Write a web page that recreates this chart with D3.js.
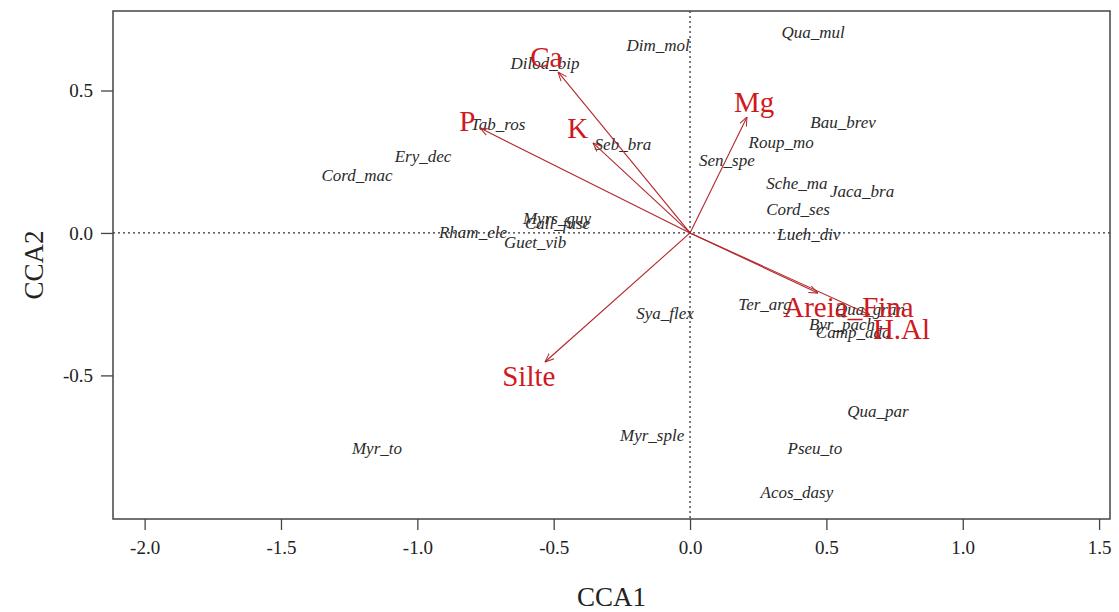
<!DOCTYPE html>
<html>
<head>
<meta charset="utf-8">
<script src="https://cdn.jsdelivr.net/npm/d3@7"></script>
<style>
    html, body { margin: 0; padding: 0; background: #fff; }
    #chart { width: 1119px; height: 612px; }
    text { font-family: "Liberation Serif", "Times New Roman", serif; }
</style>
</head>
<body>
<div id="chart"></div>
<script>
// species scores (CCA1, CCA2)
var speciesNames = ['Dim_mol', 'Dilod_bip', 'Tab_ros', 'Seb_bra', 'Ery_dec', 'Cord_mac',
    'Qua_mul', 'Bau_brev', 'Roup_mo', 'Sen_spe', 'Sche_ma', 'Jaca_bra', 'Cord_ses',
    'Lueh_div', 'Ter_arg', 'Qua_gran', 'Byr_pach', 'Camp_ada', 'Rham_ele', 'Guet_vib',
    'Myrs_guy', 'Call_fuse', 'Myr_to', 'Myr_sple', 'Qua_par', 'Pseu_to', 'Acos_dasy', 'Sya_flex'];
var speciesCCA1 = [-0.117, -0.532, -0.704, -0.246, -0.979, -1.221,
    0.451, 0.561, 0.334, 0.135, 0.392, 0.631, 0.396,
    0.436, 0.275, 0.660, 0.557, 0.598, -0.796, -0.568,
    -0.488, -0.486, -1.148, -0.139, 0.689, 0.458, 0.392, -0.092];
var speciesCCA2 = [0.656, 0.593, 0.379, 0.309, 0.267, 0.200,
    0.702, 0.386, 0.316, 0.253, 0.172, 0.147, 0.081,
    -0.004, -0.253, -0.270, -0.323, -0.351, 0.000, -0.035,
    0.049, 0.032, -0.758, -0.712, -0.628, -0.758, -0.912, -0.284];

// environmental vectors (arrow tips)
var envNames = ['Ca', 'P', 'K', 'Mg', 'Silte', 'Areia_Fina', 'H.Al'];
var envCCA1 = [-0.484, -0.770, -0.356, 0.209, -0.532, 0.469, 0.660];
var envCCA2 = [0.565, 0.368, 0.316, 0.407, -0.453, -0.211, -0.288];

var xTicks = [-2.0, -1.5, -1.0, -0.5, 0.0, 0.5, 1.0, 1.5];
var yTicks = [-0.5, 0.0, 0.5];
var xLimits = [-2.116, 1.54];
var yLimits = [-1.004, 0.779];

var Chart = function () {

    var _Chart = function (opts) {
        this.element = opts.element;
        this.__init();
    }

    _Chart.prototype = {
        __init: function () {
            this.__draw();
        },
        __draw: function () {
            this.width = 1119;
            this.height = 612;
            this.margin = { top: 11, right: 9, bottom: 93, left: 113 };

            this.element.innerHTML = '';
            var svg = d3.select(this.element)
                .append('svg')
                .attr('width', this.width)
                .attr('height', this.height);

            // arrow head marker, open "V" like R arrows()
            svg.append('defs').append('marker')
                .attr('id', 'head')
                .attr('viewBox', '0 0 10 10')
                .attr('refX', 10).attr('refY', 5)
                .attr('markerWidth', 9).attr('markerHeight', 9)
                .attr('markerUnits', 'userSpaceOnUse')
                .attr('orient', 'auto')
                .append('path')
                .attr('d', 'M0,1 L10,5 L0,9')
                .style('fill', 'none')
                .style('stroke', '#b3262b')
                .style('stroke-width', 1.1);

            this.plat = svg.append('g')
                .attr('transform', 'translate(' + this.margin.left + ',' + this.margin.top + ')');
            this.svg = svg;

            this.__createScales();
            this.__addAxes();
            this.__addZeroLines();
            this.__addSpecies();
            this.__addArrows();
            this.__addBox();
        },
        __createScales: function () {
            var m = this.margin;
            this.w = this.width - m.left - m.right;
            this.h = this.height - m.top - m.bottom;

            this.xScale = d3.scaleLinear().domain(xLimits).range([0, this.w]);
            this.yScale = d3.scaleLinear().domain(yLimits).range([this.h, 0]);
        },
        __addAxes: function () {
            // R prints a plain hyphen for negatives
            var fmt = function (d) { return d.toFixed(1); };
            var xAxis = d3.axisBottom(this.xScale)
                .tickValues(xTicks)
                .tickFormat(fmt)
                .tickSize(11)
                .tickPadding(11);
            var yAxis = d3.axisLeft(this.yScale)
                .tickValues(yTicks)
                .tickFormat(fmt)
                .tickSize(12)
                .tickPadding(8);

            var gx = this.plat.append('g')
                .attr('class', 'x-axis')
                .attr('transform', 'translate(0,' + this.h + ')')
                .call(xAxis);
            var gy = this.plat.append('g')
                .attr('class', 'y-axis')
                .call(yAxis);

            [gx, gy].forEach(function (g) {
                g.select('.domain').remove();
                g.selectAll('line').style('stroke', '#444').style('stroke-width', 1.3);
                g.selectAll('text')
                    .style('font-family', '"Liberation Serif", serif')
                    .style('font-size', '19px')
                    .style('fill', '#222');
            });

            // axis titles
            this.plat.append('text')
                .attr('x', this.w / 2)
                .attr('y', this.h + 87)
                .attr('text-anchor', 'middle')
                .style('font-size', '27px')
                .style('fill', '#222')
                .text('CCA1');

            this.plat.append('text')
                .attr('transform', 'translate(' + (-70) + ',' + (this.h / 2) + ') rotate(-90)')
                .attr('text-anchor', 'middle')
                .style('font-size', '27px')
                .style('fill', '#222')
                .text('CCA2');
        },
        __addZeroLines: function () {
            var _this = this;
            this.plat.append('line')
                .attr('x1', 0).attr('x2', this.w)
                .attr('y1', _this.yScale(0)).attr('y2', _this.yScale(0))
                .style('stroke', '#333').style('stroke-width', 1.3)
                .style('stroke-dasharray', '2,3');
            this.plat.append('line')
                .attr('x1', _this.xScale(0)).attr('x2', _this.xScale(0))
                .attr('y1', 0).attr('y2', this.h)
                .style('stroke', '#333').style('stroke-width', 1.3)
                .style('stroke-dasharray', '2,3');
        },
        __addSpecies: function () {
            var _this = this;
            var data = speciesNames.map(function (n, i) {
                return { name: n, x: speciesCCA1[i], y: speciesCCA2[i] };
            });
            this.plat.selectAll('.sp')
                .data(data)
                .enter().append('text')
                .attr('class', 'sp')
                .attr('x', function (d) { return _this.xScale(d.x); })
                .attr('y', function (d) { return _this.yScale(d.y); })
                .attr('dy', '0.32em')
                .attr('text-anchor', 'middle')
                .style('font-style', 'italic')
                .style('font-size', '17px')
                .style('fill', '#2a2a2a')
                .text(function (d) { return d.name; });
        },
        __addArrows: function () {
            var _this = this;
            var x0 = this.xScale(0), y0 = this.yScale(0);
            var data = envNames.map(function (n, i) {
                return { name: n, x: envCCA1[i], y: envCCA2[i] };
            });

            this.plat.selectAll('.arrow')
                .data(data)
                .enter().append('line')
                .attr('class', 'arrow')
                .attr('x1', x0).attr('y1', y0)
                .attr('x2', function (d) { return _this.xScale(d.x); })
                .attr('y2', function (d) { return _this.yScale(d.y); })
                .attr('marker-end', 'url(#head)')
                .style('stroke', '#b3262b')
                .style('stroke-width', 1.1);

            // labels placed beyond the tip like vegan's ordiArrowTextXY
            var fs = 29;
            var lab = this.plat.selectAll('.env')
                .data(data)
                .enter().append('text')
                .attr('class', 'env')
                .attr('text-anchor', 'middle')
                .attr('dy', '0.33em')
                .style('font-size', fs + 'px')
                .style('fill', '#d0191e')
                .text(function (d) { return d.name; });

            lab.each(function (d) {
                var tw = this.getComputedTextLength();
                var th = fs * 0.66;
                var dx = _this.xScale(d.x) - x0;
                var dy = y0 - _this.yScale(d.y);
                var offx = Math.sign(dx) * (tw / 2 + th / 4);
                var offy = 0.75 * th * Math.sign(dy);
                var b = dy / dx;
                var move = offy / b;
                if (isFinite(move) && Math.abs(move) <= Math.abs(offx)) {
                    offx = move;
                } else {
                    offy = b * offx;
                }
                d3.select(this)
                    .attr('x', x0 + dx + offx)
                    .attr('y', y0 - (dy + offy));
            });
        },
        __addBox: function () {
            this.plat.append('rect')
                .attr('x', 0).attr('y', 0)
                .attr('width', this.w).attr('height', this.h)
                .style('fill', 'none')
                .style('stroke', '#444')
                .style('stroke-width', 1.5);
        }
    }

    return _Chart;
}.call(this);

var chart = new Chart({ element: document.getElementById('chart') });
</script>
</body>
</html>
